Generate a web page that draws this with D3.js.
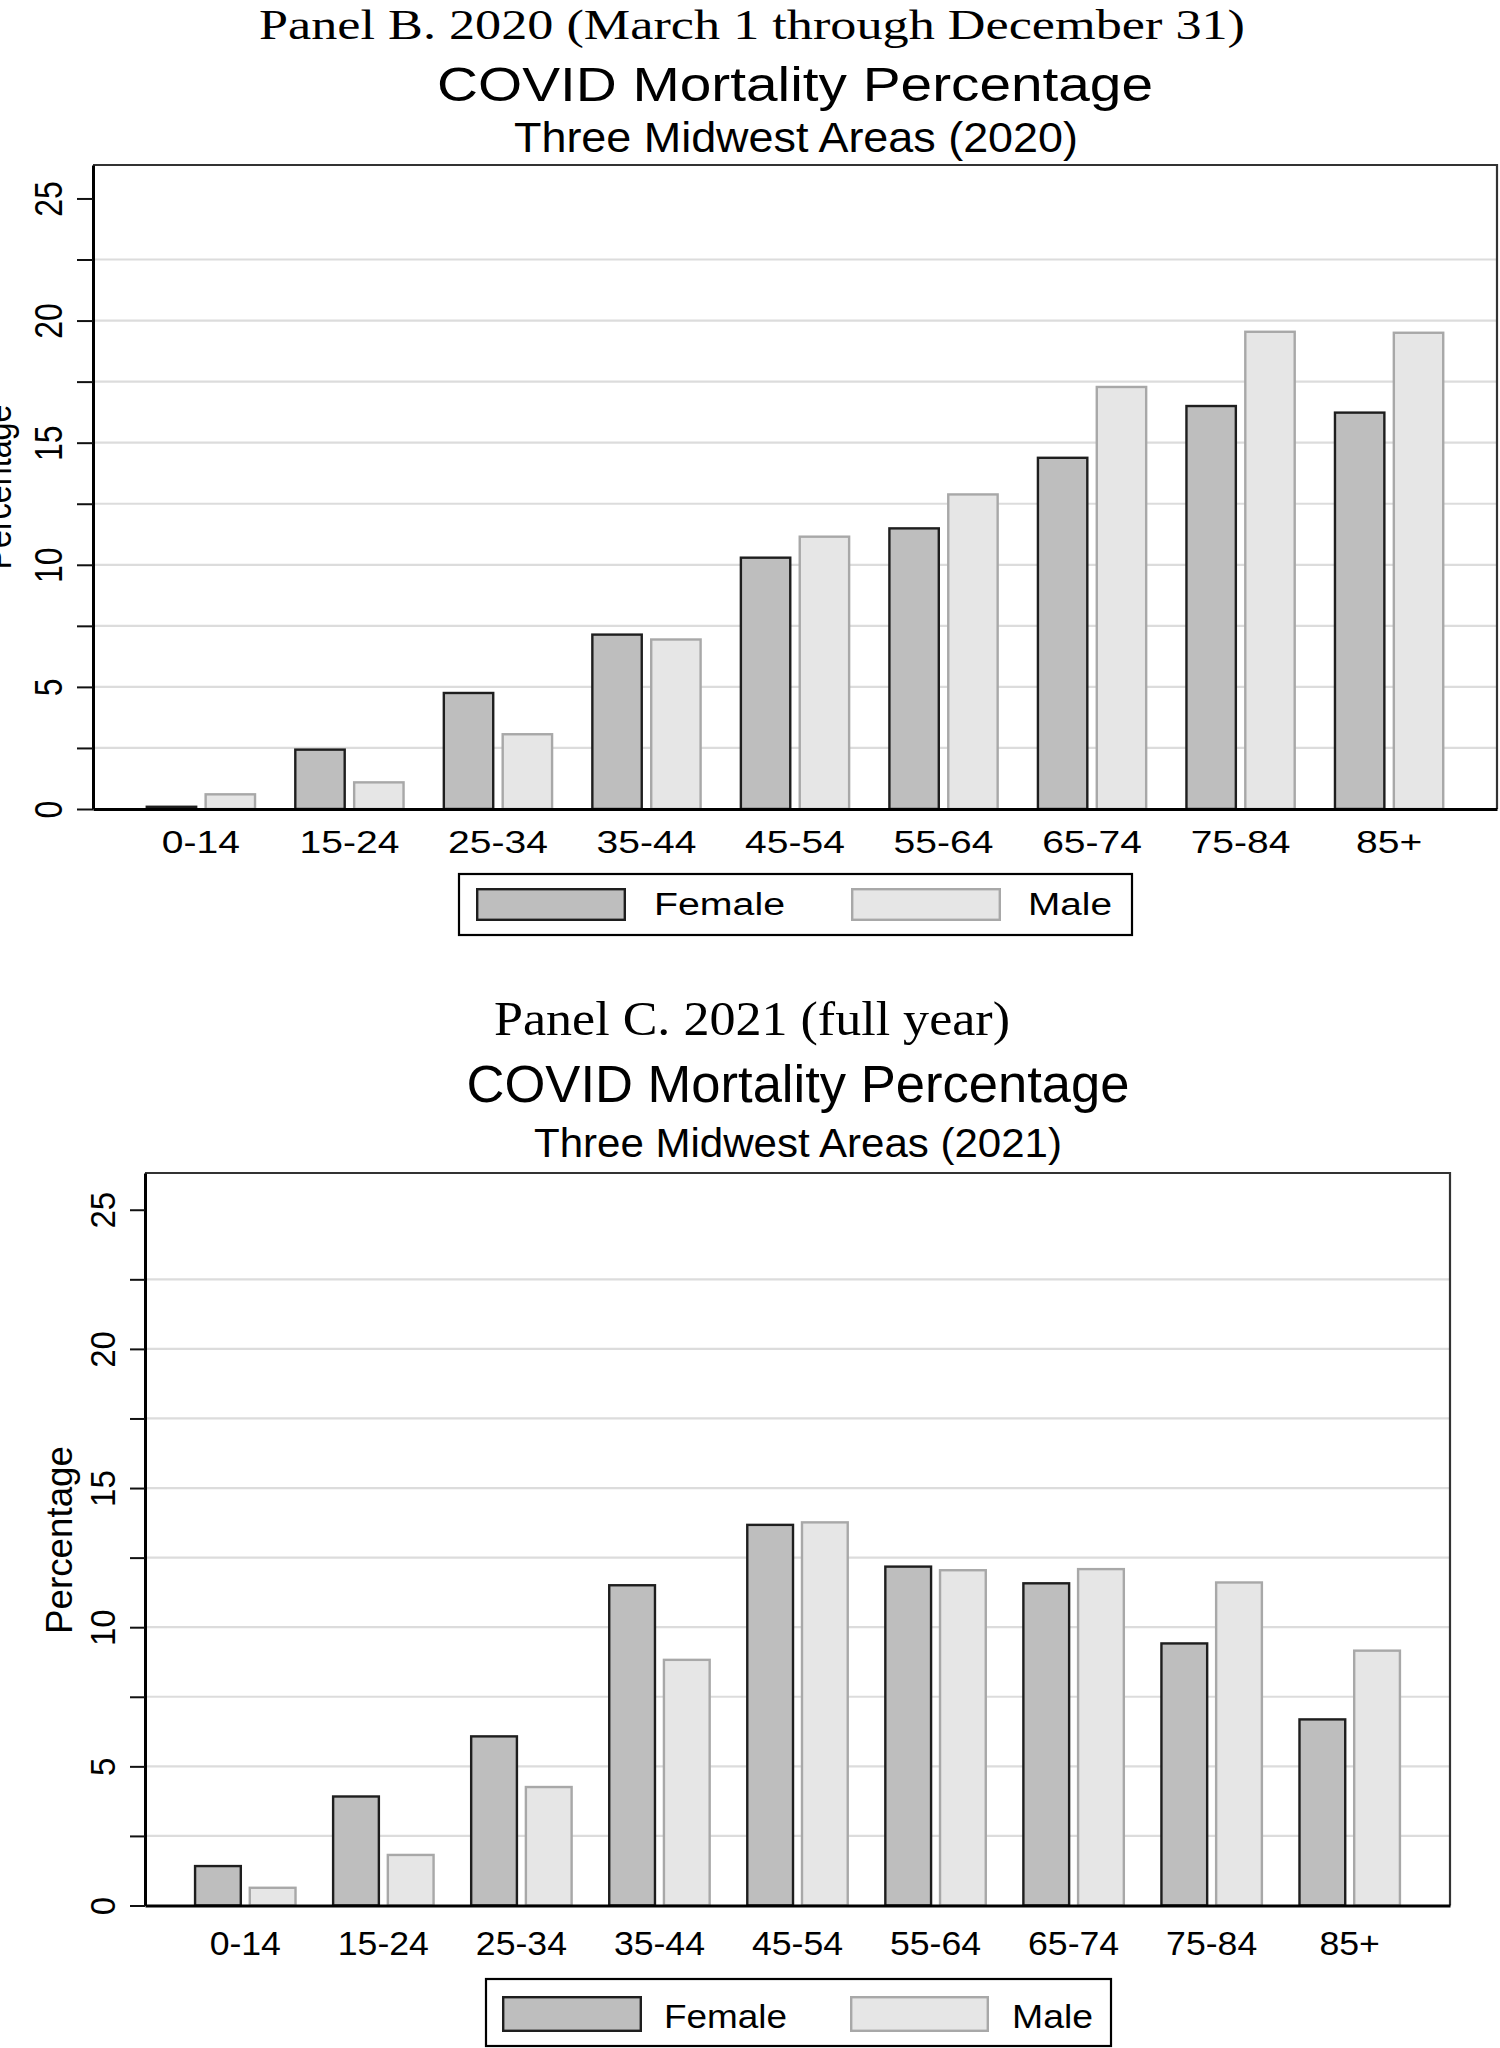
<!DOCTYPE html>
<html><head><meta charset="utf-8">
<script src="https://cdn.jsdelivr.net/npm/d3@7"></script>
<style>body{margin:0;background:#fff}svg{display:block}</style>
</head><body><svg id="c" width="1500" height="2048"></svg>
<script>
// ---------------- DATA ----------------
const ageGroups = ["0-14","15-24","25-34","35-44","45-54","55-64","65-74","75-84","85+"];
const seriesNames = ["Female","Male"];
const female2020 = [0.14, 2.48, 4.80, 7.19, 10.34, 11.54, 14.43, 16.55, 16.28];
const male2020   = [0.65, 1.14, 3.11, 6.99, 11.20, 12.93, 17.33, 19.59, 19.55];
const female2021 = [1.46, 3.96, 6.12, 11.55, 13.72, 12.22, 11.62, 9.46, 6.73];
const male2021   = [0.68, 1.86, 4.30, 8.87, 13.81, 12.09, 12.13, 11.65, 9.20];
const yTickValues = [0, 2.5, 5, 7.5, 10, 12.5, 15, 17.5, 20, 22.5, 25];
const yLabelValues = [0, 5, 10, 15, 20, 25];
const gridValues = [2.5, 5, 7.5, 10, 12.5, 15, 17.5, 20, 22.5];
const panelLabels = ["Panel B. 2020 (March 1 through December 31)", "Panel C. 2021 (full year)"];
const chartTitle = "COVID Mortality Percentage";
const subtitles = ["Three Midwest Areas (2020)", "Three Midwest Areas (2021)"];
const yAxisTitle = "Percentage";

// ---------------- STYLE / LAYOUT ----------------
const SANS = "'Liberation Sans', Arial, sans-serif";
const SERIF = "'Liberation Serif', 'Times New Roman', serif";
const fills = {Female: "#bebebe", Male: "#e6e6e6"};
const strokes = {Female: "#1e1e1e", Male: "#a8a8a8"};

const layouts = [
  { x0: 93, x1: 1497, yt: 165, yb: 809, ymax: 26.37, sx: 1.22, fs: 32, tick: 16,
    yLabelX: 62, xLabelBase: 853,
    yTitle: {x: 11, y: 487, fs: 32, w: 165},
    serif: {x: 752, y: 39, fs: 43, w: 986},
    title: {x: 795, y: 101, fs: 48, w: 716},
    sub: {x: 796, y: 152, fs: 42, w: 564},
    legend: {box: [459, 874, 1132, 935], sw: [[476, 888, 626, 921], [851, 888, 1001, 921]],
             tx: [654, 1028], ty: 915, tw: [131, 84], fs: 31} },
  { x0: 145, x1: 1450, yt: 1173, yb: 1905.5, ymax: 26.32, sx: 1.08, fs: 33, tick: 15,
    yLabelX: 115, xLabelBase: 1955,
    yTitle: {x: 72, y: 1540, fs: 34, w: 188},
    serif: {x: 752, y: 1035, fs: 49, w: 516},
    title: {x: 798, y: 1101.5, fs: 51, w: 663},
    sub: {x: 798, y: 1156.5, fs: 41, w: 528},
    legend: {box: [486, 1979, 1111, 2046], sw: [[502, 1996, 642, 2032], [850, 1996, 989, 2032]],
             tx: [664, 1012], ty: 2028, tw: [123, 81], fs: 33} }
];

const svg = d3.select("#c");
svg.append("rect").attr("width", 1500).attr("height", 2048).attr("fill", "#fff");

function txt(g, o) {
  const t = g.append("text").text(o.text)
    .attr("font-family", o.family || SANS).attr("font-size", o.fs)
    .attr("text-anchor", o.anchor || "middle").attr("fill", "#000");
  let tr = `translate(${o.x},${o.y}) scale(${o.sx || 1},1)`;
  if (o.rot) tr += ` rotate(${o.rot})`;
  t.attr("transform", tr);
  if (o.w) t.attr("textLength", o.w).attr("lengthAdjust", "spacingAndGlyphs");
  return t;
}

function drawPanel(L, fem, mal, panelLabel, subtitle) {
  const g = svg.append("g");
  txt(g, {text: panelLabel, x: L.serif.x, y: L.serif.y, fs: L.serif.fs, w: L.serif.w, family: SERIF});
  txt(g, {text: chartTitle, x: L.title.x, y: L.title.y, fs: L.title.fs, w: L.title.w});
  txt(g, {text: subtitle, x: L.sub.x, y: L.sub.y, fs: L.sub.fs, w: L.sub.w});

  const y = d3.scaleLinear().domain([0, L.ymax]).range([L.yb, L.yt]);
  const x = d3.scaleBand().domain(ageGroups).range([L.x0, L.x1]).paddingInner(0.255).paddingOuter(0.354);
  const xs = d3.scaleBand().domain(seriesNames).range([0, x.bandwidth()]).paddingInner(0.12);

  // gridlines
  g.append("g").selectAll("line").data(gridValues).join("line")
    .attr("x1", L.x0).attr("x2", L.x1).attr("y1", d => y(d)).attr("y2", d => y(d))
    .attr("stroke", "#dcdcdc").attr("stroke-width", 2.2);

  // bars
  const rows = ageGroups.map((a, i) => ({age: a, vals: [{s: "Female", v: fem[i]}, {s: "Male", v: mal[i]}]}));
  const sw = 2.4;
  g.append("g").selectAll("g").data(rows).join("g")
    .attr("transform", d => `translate(${x(d.age)},0)`)
    .selectAll("rect").data(d => d.vals).join("rect")
    .attr("x", d => xs(d.s) + sw / 2)
    .attr("width", xs.bandwidth() - sw)
    .attr("y", d => Math.min(y(d.v) + sw / 2, y(0) - sw / 2))
    .attr("height", d => Math.max(0.5, y(0) - y(d.v) - sw / 2))
    .attr("fill", d => fills[d.s]).attr("stroke", d => strokes[d.s]).attr("stroke-width", sw);

  // plot border (top/right)
  g.append("path").attr("d", `M${L.x0},${L.yt}H${L.x1}V${L.yb}`)
    .attr("fill", "none").attr("stroke", "#333").attr("stroke-width", 2.2);

  // y axis
  const ya = g.append("g").attr("transform", `translate(${L.x0},0)`)
    .call(d3.axisLeft(y).tickValues(yTickValues).tickSize(L.tick).tickSizeOuter(0)
      .tickFormat(d => yLabelValues.includes(d) ? d : ""));
  ya.select(".domain").attr("stroke", "#000").attr("stroke-width", 3);
  ya.selectAll(".tick line").attr("stroke", "#111").attr("stroke-width", 2);
  ya.selectAll(".tick text").attr("x", 0).attr("y", 0).attr("dy", null)
    .attr("font-family", SANS).attr("font-size", L.fs).attr("fill", "#000")
    .attr("text-anchor", "middle")
    .attr("transform", `translate(${L.yLabelX - L.x0},0) scale(${L.sx},1) rotate(-90)`);

  // x axis
  const xa = g.append("g").attr("transform", `translate(0,${L.yb})`)
    .call(d3.axisBottom(x).tickSize(0).tickSizeOuter(0));
  xa.select(".domain").attr("stroke", "#000").attr("stroke-width", 3);
  xa.selectAll(".tick text").attr("x", 0).attr("y", 0).attr("dy", null)
    .attr("font-family", SANS).attr("font-size", L.fs).attr("fill", "#000")
    .attr("transform", `translate(0,${L.xLabelBase - L.yb}) scale(${L.sx},1)`);

  // y title
  txt(g, {text: yAxisTitle, x: L.yTitle.x, y: L.yTitle.y, fs: L.yTitle.fs, w: L.yTitle.w, sx: L.sx, rot: -90});

  // legend
  const lg = L.legend;
  g.append("rect").attr("x", lg.box[0]).attr("y", lg.box[1])
    .attr("width", lg.box[2] - lg.box[0]).attr("height", lg.box[3] - lg.box[1])
    .attr("fill", "#fff").attr("stroke", "#000").attr("stroke-width", 2.2);
  seriesNames.forEach((s, i) => {
    const r = lg.sw[i];
    g.append("rect").attr("x", r[0] + 1.2).attr("y", r[1] + 1.2)
      .attr("width", r[2] - r[0] - 2.4).attr("height", r[3] - r[1] - 2.4)
      .attr("fill", fills[s]).attr("stroke", strokes[s]).attr("stroke-width", 2.4);
    txt(g, {text: s, x: lg.tx[i], y: lg.ty, fs: lg.fs, w: lg.tw[i], anchor: "start"});
  });
}

drawPanel(layouts[0], female2020, male2020, panelLabels[0], subtitles[0]);
drawPanel(layouts[1], female2021, male2021, panelLabels[1], subtitles[1]);
</script></body></html>
